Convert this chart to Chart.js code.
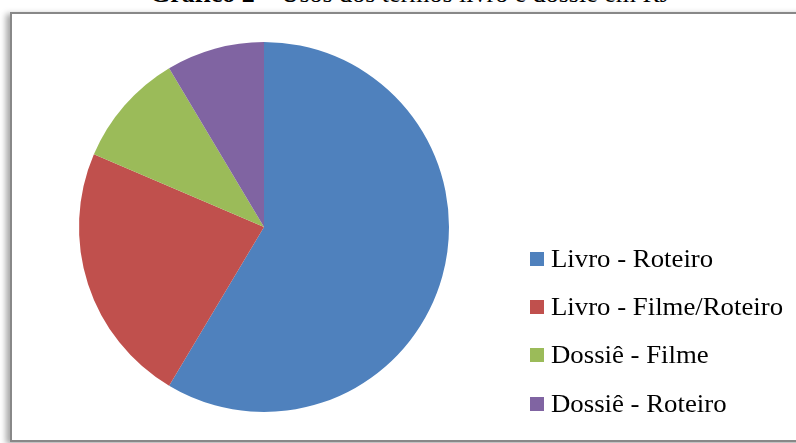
<!DOCTYPE html>
<html>
<head>
<meta charset="utf-8">
<script src="https://cdn.jsdelivr.net/npm/chart.js@4/dist/chart.umd.min.js"></script>
<style>
  html, body { margin: 0; padding: 0; background: #fff; }
  body { width: 796px; height: 443px; position: relative; overflow: hidden; font-family: "Liberation Serif", "Times New Roman", serif; }
  #title { position: absolute; top: -19px; left: 0; width: 820px; text-align: center; font-size: 26px; line-height: 26px; color: #000; white-space: nowrap; }
  #box { position: absolute; left: 10px; top: 12px; width: 800px; height: 430px; border: 2px solid #888; box-sizing: border-box; background: #fff; box-shadow: -4px 2px 6px rgba(0,0,0,0.35); }
  #wrap { position: absolute; left: 12px; top: 14px; width: 784px; height: 425px; }
  #legend { position: absolute; left: 530px; top: 0; }
  .item { position: absolute; left: 0; white-space: nowrap; }
  .sw { position: absolute; left: 0; width: 14px; height: 14px; }
  .lbl { position: absolute; left: 21px; font-size: 26px; line-height: 26px; color: #000; transform: scaleX(1.03); transform-origin: left center; }
</style>
</head>
<body>
<div id="title"><b>Gráfico 2</b> – Usos dos termos livro e dossiê em RJ</div>
<div id="box"></div>
<div id="wrap"><canvas id="c" width="784" height="425"></canvas></div>
<div id="legend"></div>
<script>
const categories = ["Livro - Roteiro", "Livro - Filme/Roteiro", "Dossiê - Filme", "Dossiê - Roteiro"];
const values = [41, 16, 7, 6];
const colors = ["#4F81BD", "#C0504D", "#9BBB59", "#8064A2"];

const ctx = document.getElementById('c').getContext('2d');
new Chart(ctx, {
  type: 'pie',
  data: {
    labels: categories,
    datasets: [{ data: values, backgroundColor: colors, borderWidth: 0 }]
  },
  options: {
    responsive: false,
    animation: false,
    layout: { padding: { left: 67, right: 347, top: 28, bottom: 27 } },
    plugins: { legend: { display: false }, tooltip: { enabled: false }, title: { display: false } }
  }
});

const legend = document.getElementById('legend');
const baselines = [268, 316, 364, 413];
categories.forEach((name, i) => {
  const item = document.createElement('div');
  item.className = 'item';
  const sw = document.createElement('div');
  sw.className = 'sw';
  sw.style.background = colors[i];
  sw.style.top = (baselines[i] - 16) + 'px';
  const lbl = document.createElement('div');
  lbl.className = 'lbl';
  lbl.textContent = name;
  lbl.style.top = (baselines[i] - 22) + 'px';
  item.appendChild(sw);
  item.appendChild(lbl);
  legend.appendChild(item);
});
</script>
</body>
</html>
